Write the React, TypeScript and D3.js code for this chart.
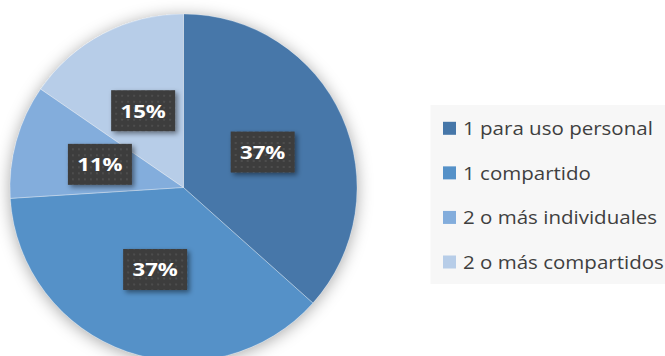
import React from 'react';
import * as d3 from 'd3';

const categories = ['1 para uso personal', '1 compartido', '2 o más individuales', '2 o más compartidos'];
const values = [36.6, 37.4, 10.6, 15.4];
const labels = ['37%', '37%', '11%', '15%'];
const colors = ['#4677A9', '#5591C8', '#83ADDC', '#B7CDE8'];

const W = 665;
const H = 356;

export default function App() {
  const cx = 183.5;
  const cy = 187.5;
  const r = 173.5;
  const pie = d3.pie<number>().sort(null).value((d) => d);
  const arcs = pie(values);
  const arc = d3.arc<d3.PieArcDatum<number>>().innerRadius(0).outerRadius(r);
  const legendY = d3.scalePoint<number>().domain(d3.range(categories.length)).range([128.3, 262]);

  return (
    <svg width={W} height={H} style={{ position: 'absolute', left: 0, top: 0, background: '#fff' }}>
      <defs>
        <filter id="pieShadow" x="-20%" y="-20%" width="140%" height="140%">
          <feDropShadow dx="0" dy="2" stdDeviation="8" floodColor="#000" floodOpacity="0.35" />
        </filter>
        <filter id="boxShadow" x="-30%" y="-30%" width="160%" height="160%">
          <feDropShadow dx="2.5" dy="2.5" stdDeviation="2.5" floodColor="#000" floodOpacity="0.45" />
        </filter>
        <pattern id="dots" width="6" height="6" patternUnits="userSpaceOnUse">
          <rect width="6" height="6" fill="#3c3c3c" />
          <circle cx="3" cy="3" r="0.9" fill="#565656" />
        </pattern>
      </defs>
      <g transform={`translate(${cx},${cy})`}>
        <g filter="url(#pieShadow)">
          {arcs.map((a, i) => (
            <path key={i} d={arc(a) || ''} fill={colors[i]} />
          ))}
        </g>
        {arcs.map((a, i) => (
          <path key={'s' + i} d={arc(a) || ''} fill="none" stroke="#ffffff" strokeOpacity={0.3} strokeWidth={0.8} />
        ))}
        {arcs.map((a, i) => {
          const [x, y] = arc.centroid(a);
          return (
            <g key={'l' + i} transform={`translate(${x},${y})`}>
              <rect x={-32} y={-20.5} width={64} height={41} fill="url(#dots)" filter="url(#boxShadow)" />
              <text
                transform="scale(1.2,1)"
                x={0}
                y={6.8}
                textAnchor="middle"
                fill="#ffffff"
                fontFamily="'Open Sans', sans-serif"
                fontWeight={700}
                fontSize={18.5}
              >
                {labels[i]}
              </text>
            </g>
          );
        })}
      </g>
      <rect x={430.5} y={105} width={240} height={179} fill="#f7f7f7" />
      {categories.map((c, i) => {
        const y = legendY(i) as number;
        return (
          <g key={'g' + i}>
            <rect x={443} y={y - 6.5} width={13} height={13} fill={colors[i]} />
            <g transform={`translate(463,${y + 6.8}) scale(1.08,1)`}>
              <text x={0} y={0} fill="#3f3f3f" fontFamily="'Open Sans', sans-serif" fontSize={19}>
                {c}
              </text>
            </g>
          </g>
        );
      })}
    </svg>
  );
}
